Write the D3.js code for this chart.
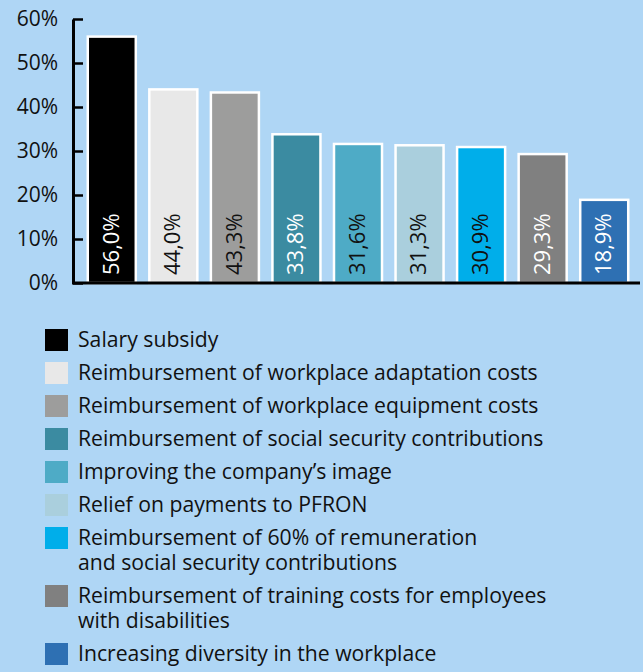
<!DOCTYPE html>
<html>
<head>
<meta charset="utf-8">
<script src="https://cdn.jsdelivr.net/npm/d3@7"></script>
<style>
  body { margin: 0; background: #afd6f5; }
  svg { display: block; font-family: 'Open Sans', sans-serif; }
</style>
</head>
<body>
<div id="chart-div"></div>
<script>
const categories = [
  'Salary subsidy',
  'Reimbursement of workplace adaptation costs',
  'Reimbursement of workplace equipment costs',
  'Reimbursement of social security contributions',
  'Improving the company\u2019s image',
  'Relief on payments to PFRON',
  'Reimbursement of 60% of remuneration\nand social security contributions',
  'Reimbursement of training costs for employees\nwith disabilities',
  'Increasing diversity in the workplace'
]
const values = [56.0, 44.0, 43.3, 33.8, 31.6, 31.3, 30.9, 29.3, 18.9]
const colors = ['#000000', '#e8e8e8', '#9d9d9c', '#3b8ba1', '#4eabc6', '#aacfdd', '#00aeea', '#808080', '#2e70b3']
const labelColors = ['#fff', '#111', '#111', '#fff', '#111', '#111', '#111', '#fff', '#fff']
const yTicks = [0, 10, 20, 30, 40, 50, 60]

const formatValue = d => d.toFixed(1).replace('.', ',') + '%'

const width = 643
const height = 672

const svg = d3.select('#chart-div')
  .append('svg')
  .attr('width', width)
  .attr('height', height)

const x = d3.scaleBand()
  .domain(categories)
  .range([81, 635])
  .paddingInner(0.22)
  .paddingOuter(0.11)

const y = d3.scaleLinear()
  .domain([0, 60])
  .range([283, 19])

// bars
const bars = svg.append('g')
bars.selectAll('rect')
  .data(categories)
  .enter().append('rect')
  .attr('x', d => x(d))
  .attr('y', (d, i) => y(values[i]))
  .attr('width', x.bandwidth())
  .attr('height', (d, i) => y(0) - y(values[i]))
  .attr('fill', (d, i) => colors[i])
  .attr('stroke', '#fff')
  .attr('stroke-width', 2.5)

bars.selectAll('text')
  .data(categories)
  .enter().append('text')
  .attr('transform', d => `translate(${x(d) + x.bandwidth() / 2 - 1}, 275) rotate(-90)`)
  .attr('dy', '0.36em')
  .attr('font-size', 22)
  .attr('fill', (d, i) => labelColors[i])
  .text((d, i) => formatValue(values[i]))

// y axis
const yAxis = d3.axisLeft(y)
  .tickValues(yTicks)
  .tickFormat(d => d + '%')
  .tickSizeInner(-10)
  .tickSizeOuter(0)
  .tickPadding(15)

const gy = svg.append('g')
  .attr('transform', 'translate(73, 0)')
  .call(yAxis)
gy.select('.domain').attr('stroke', '#000').attr('stroke-width', 3)
gy.selectAll('.tick line').attr('stroke', '#000').attr('stroke-width', 2.5)
gy.selectAll('.tick text')
  .attr('font-size', 21)
  .attr('font-family', "'Open Sans', sans-serif")
  .attr('fill', '#111')

// baseline
svg.append('line')
  .attr('x1', 72)
  .attr('x2', 640)
  .attr('y1', y(0))
  .attr('y2', y(0))
  .attr('stroke', '#000')
  .attr('stroke-width', 3)

// legend
const legend = svg.append('g')
let rowY = 329
categories.forEach((c, i) => {
  const lines = c.split('\n')
  legend.append('rect')
    .attr('x', 45)
    .attr('y', rowY)
    .attr('width', 23)
    .attr('height', 22)
    .attr('fill', colors[i])
  const t = legend.append('text')
    .attr('x', 78)
    .attr('y', rowY + 11)
    .attr('font-size', 21.2)
    .attr('fill', '#111')
  lines.forEach((l, j) => {
    t.append('tspan')
      .attr('x', 78)
      .attr('dy', j === 0 ? '0.35em' : 25)
      .text(l)
  })
  rowY += 33 + 25 * (lines.length - 1)
})
</script>
</body>
</html>
